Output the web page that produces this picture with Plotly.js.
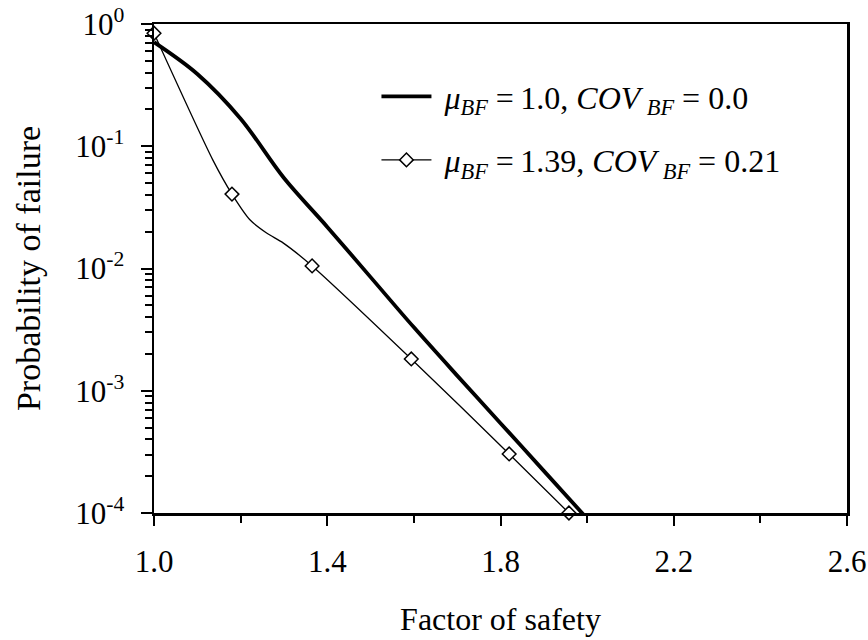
<!DOCTYPE html>
<html><head><meta charset="utf-8">
<script src="https://cdn.plot.ly/plotly-3.0.1.min.js"></script>
<style>html,body{margin:0;padding:0;background:#fff}#chart{width:868px;height:640px}</style>
</head><body><div id="chart"></div>
<script>
// Thick curve: mu_BF = 1.0, COV_BF = 0.0
const thickX = [1.0, 1.1, 1.2, 1.3, 1.4, 1.5, 1.6, 1.7, 1.8, 1.9, 2.0];
const thickY = [0.71, 0.39, 0.168, 0.055, 0.0219, 0.0085, 0.0033, 0.00133, 0.000543, 0.000221, 0.00009];
// Thin curve path: mu_BF = 1.39, COV_BF = 0.21
const thinCurveX = [1.0, 1.136, 1.18, 1.222, 1.26, 1.298, 1.365, 1.594, 1.82, 1.958];
const thinCurveY = [0.84, 0.077, 0.0406, 0.0249, 0.0195, 0.0162, 0.0105, 0.00182, 0.000304, 0.0001];
// Marked points on the thin curve
const markerX = [1.0, 1.18, 1.365, 1.594, 1.82, 1.958];
const markerY = [0.84, 0.0406, 0.0105, 0.00182, 0.000304, 0.0001];

const seriesNames = [
  '\u00a0<i>μ</i><sub><i>BF</i></sub>\u00a0=\u20091.0, <i>COV</i>\u2009<sub><i>BF</i></sub>\u00a0= 0.0',
  '\u00a0<i>μ</i><sub><i>BF</i></sub>\u00a0=\u20091.39, <i>COV</i>\u2009<sub><i>BF</i></sub>\u00a0= 0.21'
];
const yTickVals = [1, 0.1, 0.01, 0.001, 0.0001];
const yTickText = ['10<sup>0</sup>', '10<sup>-1</sup>', '10<sup>-2</sup>', '10<sup>-3</sup>', '10<sup>-4</sup>'];
const xTitle = 'Factor of safety';
const yTitle = 'Probability of failure';

const FONT = 'Liberation Serif, Times New Roman, serif';

// minor log ticks 2..9 in each decade
const yMinor = [];
for (let e = -4; e < 0; e++) {
  for (let k = 2; k <= 9; k++) yMinor.push(k * Math.pow(10, e));
}

const traces = [
  {
    x: thickX, y: thickY, type: 'scatter', mode: 'lines',
    name: seriesNames[0], legendgroup: 'a',
    line: {color: '#000', width: 3.8, shape: 'spline', smoothing: 0.95},
    hoverinfo: 'skip'
  },
  {
    x: thinCurveX, y: thinCurveY, type: 'scatter', mode: 'lines',
    showlegend: false,
    line: {color: '#000', width: 1.3, shape: 'spline', smoothing: 0.7},
    hoverinfo: 'skip'
  },
  {
    x: markerX, y: markerY, type: 'scatter', mode: 'markers',
    showlegend: false, cliponaxis: false,
    marker: {symbol: 'diamond', size: 10.5, color: '#fff', line: {color: '#000', width: 1.5}},
    hoverinfo: 'skip'
  },
  {
    x: [null], y: [null], type: 'scatter', mode: 'lines+markers',
    name: seriesNames[1], legendgroup: 'b',
    line: {color: '#000', width: 1.3},
    marker: {symbol: 'diamond', size: 10.5, color: '#fff', line: {color: '#000', width: 1.5}}
  }
];

const layout = {
  width: 868, height: 640,
  margin: {l: 154, r: 21, t: 24, b: 127},
  paper_bgcolor: '#fff', plot_bgcolor: '#fff',
  font: {family: FONT, color: '#000', size: 30},
  showlegend: true,
  legend: {
    x: 0.321, y: 0.908, xanchor: 'left', yanchor: 'top',
    bgcolor: 'rgba(0,0,0,0)', borderwidth: 0,
    font: {family: FONT, size: 32, color: '#000'},
    itemwidth: 50, traceorder: 'grouped', tracegroupgap: 19
  },
  xaxis: {
    range: [1.0, 2.6], tickmode: 'linear', tick0: 1.0, dtick: 0.4, tickformat: '.1f',
    ticks: 'outside', ticklen: 10, tickwidth: 2, tickcolor: '#000',
    showline: true, linewidth: 2.5, linecolor: '#000', mirror: true,
    showgrid: false, zeroline: false,
    tickfont: {family: FONT, size: 31, color: '#000'},
    ticklabelstandoff: 9,
    minor: {tick0: 1.0, dtick: 0.2, ticks: 'outside', ticklen: 7, tickwidth: 2, tickcolor: '#000', showgrid: false},
    title: {text: xTitle, font: {family: FONT, size: 32, color: '#000'}, standoff: 30}
  },
  yaxis: {
    type: 'log', range: [-4, 0],
    tickmode: 'array', tickvals: yTickVals, ticktext: yTickText,
    ticks: 'outside', ticklen: 11, tickwidth: 2, tickcolor: '#000',
    showline: true, linewidth: 2.5, linecolor: '#000', mirror: true,
    showgrid: false, zeroline: false,
    tickfont: {family: FONT, size: 31, color: '#000'},
    ticklabelstandoff: 10,
    minor: {tickmode: 'array', tickvals: yMinor, ticks: 'outside', ticklen: 7, tickwidth: 2, tickcolor: '#000', showgrid: false},
    title: {text: yTitle, font: {family: FONT, size: 34, color: '#000'}, standoff: 25}
  }
};

Plotly.newPlot('chart', traces, layout, {displayModeBar: false, staticPlot: true});
</script>
</body></html>
